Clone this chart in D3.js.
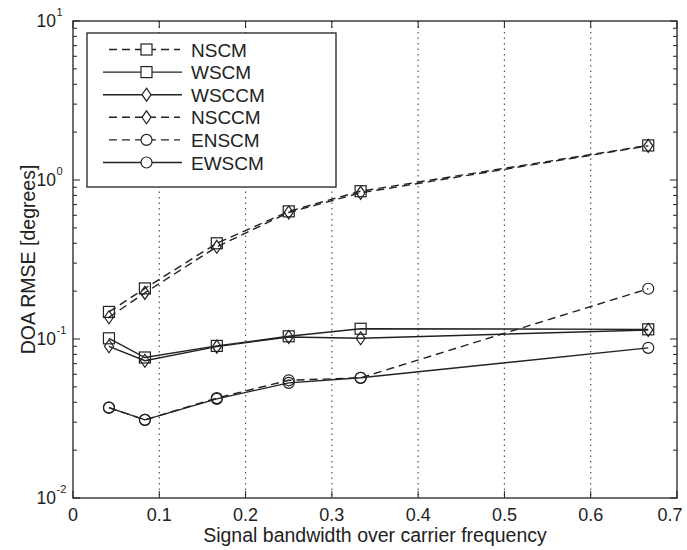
<!DOCTYPE html>
<html><head><meta charset="utf-8">
<script src="https://cdn.jsdelivr.net/npm/d3@7"></script>
<style>body{margin:0;background:#fff}svg{display:block}text{font-family:"Liberation Sans",Arial,sans-serif;fill:#222}</style>
</head><body><svg id="c" width="687" height="550"></svg>
<script>
const xValues = [1/24, 1/12, 1/6, 1/4, 1/3, 2/3];
const NSCM  = [0.148, 0.208, 0.40, 0.635, 0.85, 1.65];
const WSCM  = [0.101, 0.0765, 0.0905, 0.104, 0.116, 0.115];
const WSCCM = [0.090, 0.073, 0.0895, 0.103, 0.101, 0.114];
const NSCCM = [0.137, 0.195, 0.38, 0.625, 0.83, 1.64];
const ENSCM = [0.037, 0.031, 0.0425, 0.055, 0.057, 0.207];
const EWSCM = [0.037, 0.031, 0.042, 0.053, 0.057, 0.088];
const seriesNames = ["NSCM","WSCM","WSCCM","NSCCM","ENSCM","EWSCM"];
const seriesMarkers = ["square","square","diamond","diamond","circle","circle"];
const seriesDashed = [true,false,false,true,true,false];
const xTicks = [0,0.1,0.2,0.3,0.4,0.5,0.6,0.7];
const yTickExps = [-2,-1,0,1];
const xLabel = "Signal bandwidth over carrier frequency";
const yLabel = "DOA RMSE [degrees]";

const seriesValues = [NSCM,WSCM,WSCCM,NSCCM,ENSCM,EWSCM];
const L=73,R=677,T=21,B=498;
const svg=d3.select("#c");
const x=d3.scaleLinear().domain([0,0.7]).range([L,R]);
const y=d3.scaleLog().domain([0.01,10]).range([B,T]);
const ink="#222";

// grid (vertical dotted)
svg.append("g").selectAll("line").data(xTicks.slice(1,-1)).join("line")
 .attr("x1",d=>x(d)).attr("x2",d=>x(d)).attr("y1",T).attr("y2",B)
 .attr("stroke","#555").attr("stroke-width",1.2).attr("stroke-dasharray","1.5,4");

// minor y ticks
const minor=[];
for(let e=-2;e<1;e++) for(let m=2;m<=9;m++) minor.push(m*Math.pow(10,e));
const ax=svg.append("g").attr("stroke",ink).attr("stroke-width",1);
minor.forEach(v=>{
 ax.append("line").attr("x1",L).attr("x2",L+4).attr("y1",y(v)).attr("y2",y(v));
 ax.append("line").attr("x1",R).attr("x2",R-4).attr("y1",y(v)).attr("y2",y(v));
});
yTickExps.forEach(e=>{
 const v=Math.pow(10,e);
 ax.append("line").attr("x1",L).attr("x2",L+7).attr("y1",y(v)).attr("y2",y(v));
 ax.append("line").attr("x1",R).attr("x2",R-7).attr("y1",y(v)).attr("y2",y(v));
});
xTicks.forEach(t=>{
 ax.append("line").attr("x1",x(t)).attr("x2",x(t)).attr("y1",B).attr("y2",B-7);
 ax.append("line").attr("x1",x(t)).attr("x2",x(t)).attr("y1",T).attr("y2",T+7);
});
svg.append("rect").attr("x",L).attr("y",T).attr("width",R-L).attr("height",B-T)
 .attr("fill","none").attr("stroke",ink).attr("stroke-width",1.3);

// tick labels
svg.append("g").selectAll("text").data(xTicks).join("text")
 .attr("x",d=>Math.min(x(d),670)).attr("y",B+23).attr("text-anchor","middle")
 .attr("font-size",18).text(d=>d===0?"0":d3.format(".1f")(d));
yTickExps.forEach(e=>{
 svg.append("text").attr("x",56).attr("y",y(Math.pow(10,e))+6).attr("text-anchor","end").attr("font-size",17.5).text("10");
 svg.append("text").attr("x",56.5).attr("y",y(Math.pow(10,e))-5).attr("font-size",11).text(e);
});
svg.append("text").attr("x",(L+R)/2).attr("y",542).attr("text-anchor","middle").attr("font-size",19.5).text(xLabel);
svg.append("text").attr("transform",`translate(35,${(T+B)/2}) rotate(-90)`).attr("text-anchor","middle").attr("font-size",19.5).text(yLabel);

// markers
function marker(g,type,cx,cy){
 if(type==="square") g.append("rect").attr("x",cx-5.5).attr("y",cy-5.5).attr("width",11).attr("height",11);
 else if(type==="diamond") g.append("path").attr("d",`M${cx},${cy-6.5}L${cx+4.5},${cy}L${cx},${cy+6.5}L${cx-4.5},${cy}Z`);
 else g.append("circle").attr("cx",cx).attr("cy",cy).attr("r",5.5);
}
const line=d3.line().x(d=>x(d[0])).y(d=>y(d[1]));
seriesValues.forEach((vals,i)=>{
 const pts=xValues.map((xv,j)=>[xv,vals[j]]);
 svg.append("path").attr("d",line(pts)).attr("fill","none").attr("stroke",ink).attr("stroke-width",1.4)
  .attr("stroke-dasharray",seriesDashed[i]?"8,5":null);
 const g=svg.append("g").attr("fill","none").attr("stroke",ink).attr("stroke-width",1.2);
 pts.forEach(p=>marker(g,seriesMarkers[i],x(p[0]),y(p[1])));
});

// legend
const lg=svg.append("g");
lg.append("rect").attr("x",87).attr("y",33).attr("width",249).attr("height",154)
 .attr("fill","#fff").attr("stroke",ink).attr("stroke-width",1.3);
seriesNames.forEach((n,i)=>{
 const cy=49.5+i*22.6;
 lg.append("line").attr("x1",seriesDashed[i]?109:103).attr("x2",seriesDashed[i]?180:182).attr("y1",cy).attr("y2",cy)
  .attr("stroke",ink).attr("stroke-width",1.4).attr("stroke-dasharray",seriesDashed[i]?"8,5":null);
 const g=lg.append("g").attr("fill","#fff").attr("stroke",ink).attr("stroke-width",1.2);
 marker(g,seriesMarkers[i],146.5,cy);
 lg.append("text").attr("x",191).attr("y",cy+7).attr("font-size",19).text(n);
});
</script></body></html>
